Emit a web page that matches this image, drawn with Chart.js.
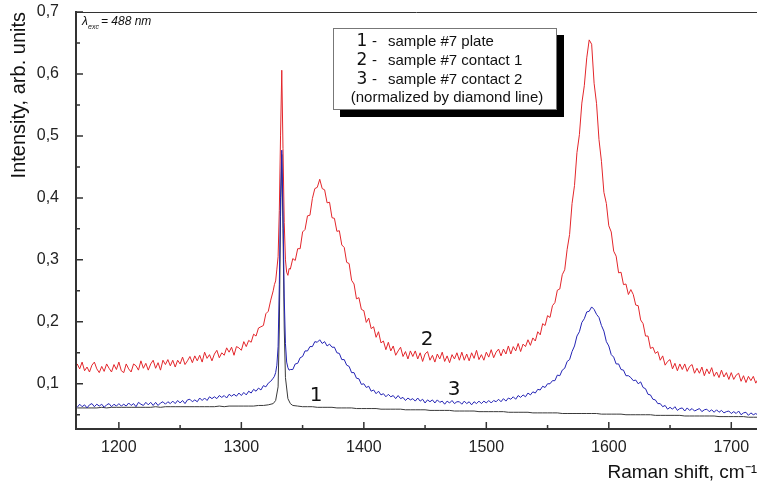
<!DOCTYPE html>
<html>
<head>
<meta charset="utf-8">
<script src="https://cdn.jsdelivr.net/npm/chart.js@4.4.1/dist/chart.umd.min.js"></script>
<style>
  body { margin: 0; background: #fff; }
  #wrap { width: 757px; height: 484px; }
</style>
</head>
<body>
<div id="wrap"><canvas id="ramanChart"></canvas></div>
<script>
// Raman shift, cm-1, for spectra 2 and 3 (step 1 around the diamond line)
const shift = [
  1166, 1168, 1170, 1172, 1174, 1176, 1178, 1180, 1182, 1184,
  1186, 1188, 1190, 1192, 1194, 1196, 1198, 1200, 1202, 1204,
  1206, 1208, 1210, 1212, 1214, 1216, 1218, 1220, 1222, 1224,
  1226, 1228, 1230, 1232, 1234, 1236, 1238, 1240, 1242, 1244,
  1246, 1248, 1250, 1252, 1254, 1256, 1258, 1260, 1262, 1264,
  1266, 1268, 1270, 1272, 1274, 1276, 1278, 1280, 1282, 1284,
  1286, 1288, 1290, 1292, 1294, 1296, 1298, 1300, 1302, 1304,
  1306, 1308, 1310, 1312, 1314, 1316, 1318, 1320, 1322, 1324,
  1326,
  1327, 1328, 1329, 1330, 1331, 1332, 1333, 1334, 1335, 1336, 1337, 1338, 1339,
  1340, 1342, 1344, 1346, 1348, 1350, 1352, 1354, 1356, 1358,
  1360, 1362, 1364, 1366, 1368, 1370, 1372, 1374, 1376, 1378,
  1380, 1382, 1384, 1386, 1388, 1390, 1392, 1394, 1396, 1398,
  1400, 1402, 1404, 1406, 1408, 1410, 1412, 1414, 1416, 1418,
  1420, 1422, 1424, 1426, 1428, 1430, 1432, 1434, 1436, 1438,
  1440, 1442, 1444, 1446, 1448, 1450, 1452, 1454, 1456, 1458,
  1460, 1462, 1464, 1466, 1468, 1470, 1472, 1474, 1476, 1478,
  1480, 1482, 1484, 1486, 1488, 1490, 1492, 1494, 1496, 1498,
  1500, 1502, 1504, 1506, 1508, 1510, 1512, 1514, 1516, 1518,
  1520, 1522, 1524, 1526, 1528, 1530, 1532, 1534, 1536, 1538,
  1540, 1542, 1544, 1546, 1548, 1550, 1552, 1554, 1556, 1558,
  1560, 1562, 1564, 1566, 1568, 1570, 1572, 1574, 1576, 1578,
  1580, 1582, 1584, 1586, 1588, 1590, 1592, 1594, 1596, 1598,
  1600, 1602, 1604, 1606, 1608, 1610, 1612, 1614, 1616, 1618,
  1620, 1622, 1624, 1626, 1628, 1630, 1632, 1634, 1636, 1638,
  1640, 1642, 1644, 1646, 1648, 1650, 1652, 1654, 1656, 1658,
  1660, 1662, 1664, 1666, 1668, 1670, 1672, 1674, 1676, 1678,
  1680, 1682, 1684, 1686, 1688, 1690, 1692, 1694, 1696, 1698,
  1700, 1702, 1704, 1706, 1708, 1710, 1712, 1714, 1716, 1718,
  1720, 1722
];

// 2 - sample #7 contact 1
const contact1 = [
  0.132, 0.124, 0.135, 0.121, 0.127, 0.119, 0.130, 0.135, 0.124, 0.118,
  0.128, 0.120, 0.132, 0.125, 0.119, 0.131, 0.123, 0.135, 0.121, 0.118,
  0.132, 0.124, 0.119, 0.132, 0.129, 0.122, 0.137, 0.125, 0.133, 0.122,
  0.132, 0.138, 0.125, 0.134, 0.122, 0.138, 0.131, 0.139, 0.129, 0.138,
  0.127, 0.138, 0.132, 0.143, 0.131, 0.137, 0.144, 0.134, 0.145, 0.137,
  0.146, 0.135, 0.151, 0.141, 0.147, 0.137, 0.148, 0.154, 0.142, 0.150,
  0.146, 0.158, 0.151, 0.159, 0.146, 0.160, 0.158, 0.154, 0.168, 0.160,
  0.170, 0.167, 0.180, 0.177, 0.190, 0.192, 0.194, 0.213, 0.217, 0.235,
  0.250,
  0.260, 0.266, 0.285, 0.305, 0.380, 0.500, 0.606, 0.480, 0.360, 0.300, 0.280, 0.275, 0.286,
  0.285, 0.302, 0.299, 0.318, 0.318, 0.345, 0.349, 0.371, 0.372, 0.399,
  0.415, 0.417, 0.430, 0.415, 0.413, 0.392, 0.393, 0.368, 0.367, 0.346,
  0.347, 0.324, 0.320, 0.296, 0.294, 0.267, 0.261, 0.237, 0.239, 0.220,
  0.218, 0.199, 0.206, 0.189, 0.192, 0.175, 0.184, 0.166, 0.169, 0.155,
  0.167, 0.153, 0.161, 0.146, 0.153, 0.159, 0.144, 0.152, 0.140, 0.153,
  0.144, 0.153, 0.140, 0.150, 0.136, 0.148, 0.152, 0.138, 0.146, 0.135,
  0.148, 0.140, 0.151, 0.136, 0.145, 0.134, 0.147, 0.140, 0.150, 0.138,
  0.151, 0.138, 0.148, 0.137, 0.150, 0.141, 0.154, 0.139, 0.147, 0.138,
  0.151, 0.143, 0.155, 0.142, 0.151, 0.156, 0.145, 0.156, 0.148, 0.161,
  0.148, 0.160, 0.153, 0.165, 0.152, 0.164, 0.160, 0.171, 0.162, 0.174,
  0.169, 0.184, 0.179, 0.197, 0.194, 0.210, 0.207, 0.226, 0.231, 0.251,
  0.253, 0.276, 0.284, 0.317, 0.341, 0.391, 0.420, 0.473, 0.502, 0.553,
  0.581, 0.626, 0.655, 0.648, 0.585, 0.552, 0.494, 0.459, 0.409, 0.391,
  0.355, 0.345, 0.314, 0.306, 0.279, 0.280, 0.260, 0.261, 0.244, 0.252,
  0.244, 0.227, 0.226, 0.203, 0.197, 0.177, 0.177, 0.157, 0.159, 0.149,
  0.152, 0.138, 0.145, 0.130, 0.136, 0.139, 0.124, 0.133, 0.121, 0.132,
  0.123, 0.132, 0.120, 0.128, 0.131, 0.117, 0.125, 0.117, 0.127, 0.113,
  0.124, 0.116, 0.126, 0.112, 0.119, 0.110, 0.122, 0.111, 0.118, 0.107,
  0.118, 0.107, 0.114, 0.117, 0.104, 0.113, 0.102, 0.112, 0.105, 0.112,
  0.101, 0.108
];

// 3 - sample #7 contact 2
const contact2 = [
  0.062, 0.067, 0.063, 0.066, 0.061, 0.066, 0.068, 0.063, 0.067, 0.064,
  0.067, 0.062, 0.066, 0.068, 0.063, 0.067, 0.064, 0.068, 0.064, 0.067,
  0.064, 0.069, 0.065, 0.068, 0.063, 0.070, 0.067, 0.065, 0.070, 0.066,
  0.070, 0.065, 0.070, 0.065, 0.069, 0.071, 0.067, 0.071, 0.068, 0.072,
  0.068, 0.073, 0.069, 0.073, 0.068, 0.074, 0.075, 0.071, 0.074, 0.071,
  0.077, 0.073, 0.077, 0.073, 0.079, 0.076, 0.079, 0.076, 0.081, 0.078,
  0.081, 0.077, 0.083, 0.080, 0.083, 0.080, 0.085, 0.081, 0.086, 0.082,
  0.088, 0.085, 0.091, 0.088, 0.093, 0.090, 0.097, 0.095, 0.101, 0.104,
  0.109,
  0.112, 0.118, 0.130, 0.160, 0.260, 0.400, 0.477, 0.380, 0.240, 0.165, 0.135, 0.126, 0.122,
  0.123, 0.123, 0.132, 0.133, 0.142, 0.144, 0.153, 0.153, 0.160, 0.160,
  0.168, 0.167, 0.171, 0.165, 0.168, 0.161, 0.164, 0.159, 0.159, 0.150,
  0.149, 0.139, 0.139, 0.130, 0.128, 0.118, 0.118, 0.109, 0.108, 0.099,
  0.100, 0.094, 0.096, 0.088, 0.090, 0.084, 0.088, 0.082, 0.084, 0.079,
  0.083, 0.079, 0.081, 0.076, 0.081, 0.076, 0.078, 0.073, 0.077, 0.074,
  0.076, 0.072, 0.077, 0.072, 0.075, 0.069, 0.074, 0.071, 0.074, 0.069,
  0.074, 0.070, 0.072, 0.067, 0.072, 0.069, 0.073, 0.068, 0.071, 0.071,
  0.067, 0.072, 0.068, 0.071, 0.066, 0.071, 0.068, 0.072, 0.068, 0.072,
  0.069, 0.073, 0.069, 0.073, 0.071, 0.075, 0.071, 0.076, 0.072, 0.077,
  0.075, 0.079, 0.075, 0.081, 0.078, 0.082, 0.079, 0.085, 0.082, 0.087,
  0.085, 0.091, 0.090, 0.096, 0.094, 0.100, 0.100, 0.105, 0.105, 0.114,
  0.113, 0.122, 0.125, 0.136, 0.139, 0.152, 0.161, 0.177, 0.184, 0.199,
  0.205, 0.216, 0.217, 0.224, 0.220, 0.212, 0.207, 0.194, 0.185, 0.168,
  0.161, 0.147, 0.143, 0.132, 0.132, 0.123, 0.122, 0.113, 0.113, 0.110,
  0.105, 0.106, 0.100, 0.103, 0.094, 0.092, 0.083, 0.082, 0.075, 0.074,
  0.068, 0.068, 0.063, 0.065, 0.059, 0.062, 0.059, 0.063, 0.057, 0.060,
  0.061, 0.056, 0.061, 0.057, 0.060, 0.056, 0.058, 0.060, 0.055, 0.058,
  0.059, 0.055, 0.058, 0.054, 0.058, 0.054, 0.057, 0.053, 0.055, 0.056,
  0.052, 0.055, 0.052, 0.056, 0.050, 0.053, 0.054, 0.049, 0.053, 0.050,
  0.052, 0.049
];

// Raman shift, cm-1, for spectrum 1 (smooth, fewer points)
const plateShift = [
  1166, 1170, 1174, 1178, 1182, 1186, 1190, 1194, 1198, 1202,
  1206, 1210, 1214, 1218, 1222, 1226, 1230, 1234, 1238, 1242,
  1246, 1250, 1254, 1258, 1262, 1266, 1270, 1274, 1278, 1282,
  1286, 1290, 1294, 1298, 1302, 1306, 1310, 1314, 1318, 1322, 1326,
  1328, 1330, 1331, 1332, 1333, 1334, 1335, 1336, 1338, 1340,
  1342, 1346, 1350, 1354, 1358, 1362, 1366, 1370, 1374, 1378,
  1382, 1386, 1390, 1394, 1398, 1402, 1406, 1410, 1414, 1418,
  1422, 1426, 1430, 1434, 1438, 1442, 1446, 1450, 1454, 1458,
  1462, 1466, 1470, 1474, 1478, 1482, 1486, 1490, 1494, 1498,
  1502, 1506, 1510, 1514, 1518, 1522, 1526, 1530, 1534, 1538,
  1542, 1546, 1550, 1554, 1558, 1562, 1566, 1570, 1574, 1578,
  1582, 1586, 1590, 1594, 1598, 1602, 1606, 1610, 1614, 1618,
  1622, 1626, 1630, 1634, 1638, 1642, 1646, 1650, 1654, 1658,
  1662, 1666, 1670, 1674, 1678, 1682, 1686, 1690, 1694, 1698,
  1702, 1706, 1710, 1714, 1718, 1722
];

// 1 - sample #7 plate
const plate = [
  0.061, 0.061, 0.061, 0.061, 0.061, 0.062, 0.061, 0.062, 0.062, 0.062,
  0.062, 0.062, 0.062, 0.062, 0.062, 0.062, 0.063, 0.062, 0.063, 0.063,
  0.063, 0.063, 0.063, 0.063, 0.063, 0.063, 0.063, 0.063, 0.063, 0.064,
  0.063, 0.064, 0.064, 0.064, 0.064, 0.064, 0.064, 0.065, 0.065, 0.066, 0.068,
  0.073, 0.095, 0.190, 0.370, 0.470, 0.350, 0.190, 0.110, 0.076, 0.068,
  0.065, 0.064, 0.063, 0.063, 0.063, 0.062, 0.062, 0.062, 0.062, 0.061,
  0.061, 0.061, 0.061, 0.060, 0.060, 0.060, 0.060, 0.060, 0.059, 0.059,
  0.059, 0.059, 0.059, 0.058, 0.058, 0.058, 0.058, 0.058, 0.057, 0.057,
  0.057, 0.057, 0.057, 0.056, 0.056, 0.056, 0.056, 0.056, 0.055, 0.055,
  0.055, 0.055, 0.055, 0.055, 0.054, 0.054, 0.054, 0.054, 0.054, 0.053,
  0.053, 0.053, 0.053, 0.053, 0.053, 0.052, 0.052, 0.052, 0.052, 0.052,
  0.052, 0.052, 0.052, 0.051, 0.051, 0.051, 0.051, 0.051, 0.050, 0.050,
  0.050, 0.050, 0.050, 0.050, 0.049, 0.049, 0.049, 0.049, 0.049, 0.049,
  0.048, 0.048, 0.048, 0.048, 0.048, 0.048, 0.048, 0.047, 0.047, 0.047,
  0.047, 0.047, 0.047, 0.046, 0.046, 0.046
];

// axis ticks
const xTicks = [1200, 1300, 1400, 1500, 1600, 1700];
const xMinor = [1250, 1350, 1450, 1550, 1650];
const yTicks = [0.1, 0.2, 0.3, 0.4, 0.5, 0.6, 0.7];
const yMinor = [0.05, 0.15, 0.25, 0.35, 0.45, 0.55, 0.65];

const legendLines = ['sample #7 plate', 'sample #7 contact 1', 'sample #7 contact 2'];

const sans = "'Liberation Sans', Arial, sans-serif";
const digits = "'DejaVu Sans', Verdana, sans-serif";

function toPoints(xs, values) {
  return xs.map((x, i) => ({ x: x, y: values[i] }));
}

// inward ticks, top frame line, legend box and curve labels
const decor = {
  id: 'decor',
  afterDraw(chart) {
    const { ctx, chartArea: a, scales: { x, y } } = chart;
    ctx.save();
    ctx.strokeStyle = '#333';

    ctx.lineWidth = 1;
    ctx.beginPath();
    ctx.moveTo(a.left, a.top + 0.5);
    ctx.lineTo(a.right, a.top + 0.5);
    ctx.stroke();

    ctx.lineWidth = 1.5;
    ctx.beginPath();
    xTicks.forEach(v => { const p = x.getPixelForValue(v); ctx.moveTo(p, a.bottom); ctx.lineTo(p, a.bottom - 7); });
    xMinor.forEach(v => { const p = x.getPixelForValue(v); ctx.moveTo(p, a.bottom); ctx.lineTo(p, a.bottom - 4); });
    yTicks.forEach(v => { const p = y.getPixelForValue(v); ctx.moveTo(a.left, p); ctx.lineTo(a.left + 7, p); });
    yMinor.forEach(v => { const p = y.getPixelForValue(v); ctx.moveTo(a.left, p); ctx.lineTo(a.left + 4, p); });
    ctx.stroke();

    // legend box with shadow
    ctx.fillStyle = '#000';
    ctx.fillRect(340, 35, 224, 82);
    ctx.fillStyle = '#fff';
    ctx.fillRect(333, 28, 224, 82);
    ctx.strokeStyle = '#777';
    ctx.lineWidth = 1;
    ctx.strokeRect(333.5, 28.5, 223, 81);

    ctx.fillStyle = '#111';
    ctx.textBaseline = 'middle';
    const rows = [42, 61, 80];
    legendLines.forEach((t, i) => {
      ctx.font = '17px ' + digits;
      ctx.textAlign = 'center';
      ctx.fillText(String(i + 1), 362, rows[i]);
      ctx.font = '15px ' + sans;
      ctx.textAlign = 'left';
      ctx.fillText('-', 372, rows[i]);
      ctx.fillText(t, 388, rows[i]);
    });
    ctx.textAlign = 'center';
    ctx.fillText('(normalized by diamond line)', 447, 98);

    // curve numbers
    ctx.font = '20px ' + digits;
    ctx.fillText('1', 316, 396);
    ctx.fillText('2', 427, 340);
    ctx.fillText('3', 454, 390);

    // excitation wavelength
    ctx.textAlign = 'left';
    ctx.font = 'italic 12px ' + sans;
    ctx.fillText('\u03bb', 82, 22);
    ctx.font = 'italic 7px ' + sans;
    ctx.fillText('exc', 88, 27);
    ctx.font = 'italic 12px ' + sans;
    ctx.fillText('= 488 nm', 101, 22);
    ctx.restore();
  }
};

const ctx = document.getElementById('ramanChart').getContext('2d');
const ramanChart = new Chart(ctx, {
  type: 'line',
  data: {
    datasets: [
      { label: '3', data: toPoints(shift, contact2), borderColor: '#2323b4', order: 0 },
      { label: '2', data: toPoints(shift, contact1), borderColor: '#e3262b', order: 1 },
      { label: '1', data: toPoints(plateShift, plate), borderColor: '#3a3a3a', order: 2 }
    ]
  },
  options: {
    responsive: true,
    maintainAspectRatio: false,
    animation: false,
    layout: { padding: { top: 12, right: 0, left: 0, bottom: 0 } },
    elements: {
      point: { radius: 0 },
      line: { borderWidth: 1, tension: 0 }
    },
    plugins: {
      legend: { display: false },
      tooltip: { enabled: false }
    },
    scales: {
      x: {
        type: 'linear',
        min: 1165,
        max: 1721,
        afterBuildTicks: s => { s.ticks = xTicks.map(v => ({ value: v })); },
        afterFit: s => { s.height = 55; },
        grid: { display: false },
        border: { display: true, color: '#333', width: 2 },
        ticks: {
          color: '#222',
          font: { family: sans, size: 16 },
          padding: 1,
          maxRotation: 0,
          callback: v => String(v)
        },
        title: {
          display: true,
          text: 'Raman shift, cm\u207b\u00b9',
          align: 'end',
          color: '#111',
          font: { family: sans, size: 19 },
          padding: { top: 2, bottom: 0 }
        }
      },
      y: {
        min: 0.027,
        max: 0.7,
        afterBuildTicks: s => { s.ticks = yTicks.map(v => ({ value: v })); },
        afterFit: s => { s.width = 76; s.paddingTop = 0; s.paddingBottom = 0; },
        grid: { display: false },
        border: { display: true, color: '#333', width: 2 },
        ticks: {
          color: '#222',
          font: { family: sans, size: 16 },
          padding: 9,
          callback: v => v.toFixed(1).replace('.', ',')
        },
        title: {
          display: true,
          text: 'Intensity, arb. units',
          align: 'end',
          color: '#111',
          font: { family: sans, size: 20 },
          padding: { top: 7, bottom: 0 }
        }
      }
    }
  },
  plugins: [decor]
});
</script>
</body>
</html>
